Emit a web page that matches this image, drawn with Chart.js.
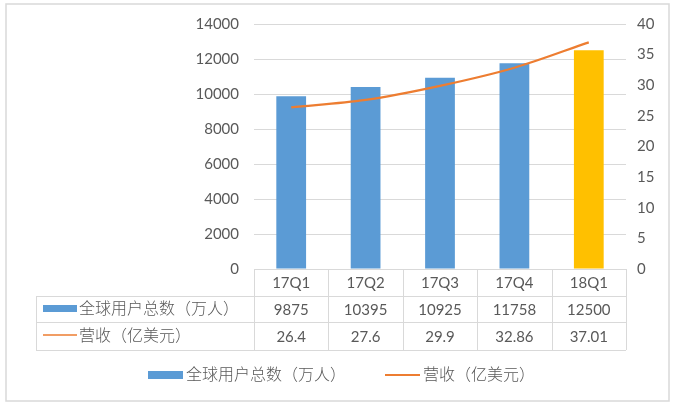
<!DOCTYPE html>
<html><head><meta charset="utf-8">
<script src="https://cdn.jsdelivr.net/npm/chart.js@4/dist/chart.umd.min.js"></script>
<style>html,body{margin:0;padding:0;background:#fff;}#wrap{width:677px;height:410px;position:relative;}</style>
</head><body><div id="wrap"><canvas id="c" width="677" height="410"></canvas></div>
<script>
const categories = ['17Q1','17Q2','17Q3','17Q4','18Q1'];
const users = [9875, 10395, 10925, 11758, 12500];
const revenue = [26.4, 27.6, 29.9, 32.86, 37.01];
const usersLabel = ['9875','10395','10925','11758','12500'];
const revenueLabel = ['26.4','27.6','29.9','32.86','37.01'];
const seriesNames = ['全球用户总数（万人）', '营收（亿美元）'];

const BLUE = '#5B9BD5', YELLOW = '#FFC000', ORANGE = '#ED7D31';
const TXT = '#595959', GRID = '#D9D9D9';
const FONT = "Lato, 'Noto Sans CJK SC', sans-serif";

const tablePlugin = {
  id: 'tablePlugin',
  afterDraw(chart) {
    const ctx = chart.ctx;
    const ca = chart.chartArea;
    const xs = chart.scales.x;
    const n = categories.length;
    const colW = (ca.right - ca.left) / n;
    const y0 = ca.bottom, y1 = 296, y2 = 322, y3 = 350, tl = 36;
    ctx.save();
    ctx.strokeStyle = '#D9D9D9';
    ctx.lineWidth = 1.5;
    ctx.strokeRect(6, 4, 663, 397);
    ctx.strokeStyle = GRID;
    ctx.lineWidth = 1;
    ctx.beginPath();
    for (let i = 0; i <= n; i++) {
      const x = Math.round(ca.left + i * colW) + 0.5;
      ctx.moveTo(x, y0); ctx.lineTo(x, y3);
    }
    ctx.moveTo(tl + 0.5, y1); ctx.lineTo(tl + 0.5, y3);
    [y1, y2, y3].forEach(y => { ctx.moveTo(tl, y + 0.5); ctx.lineTo(ca.right, y + 0.5); });
    ctx.stroke();
    ctx.fillStyle = TXT;
    ctx.font = '15px ' + FONT;
    ctx.textAlign = 'center';
    ctx.textBaseline = 'middle';
    for (let i = 0; i < n; i++) {
      const cx = xs.getPixelForValue(i);
      ctx.fillText(categories[i], cx, (y0 + y1) / 2 + 1);
      ctx.fillText(usersLabel[i], cx, (y1 + y2) / 2 + 1);
      ctx.fillText(revenueLabel[i], cx, (y2 + y3) / 2 + 1);
    }
    ctx.textAlign = 'left';
    ctx.font = '300 16px ' + FONT;
    ctx.fillStyle = BLUE;
    ctx.fillRect(43, 305, 34, 7);
    ctx.fillStyle = TXT;
    ctx.fillText(seriesNames[0], 79, (y1 + y2) / 2);
    ctx.strokeStyle = ORANGE; ctx.lineWidth = 1.5;
    ctx.beginPath(); ctx.moveTo(43, 335); ctx.lineTo(77, 335); ctx.stroke();
    ctx.fillText(seriesNames[1], 79, (y2 + y3) / 2);
    ctx.fillStyle = BLUE;
    ctx.fillRect(148, 371, 35, 8);
    ctx.fillStyle = TXT;
    ctx.fillText(seriesNames[0], 186, 375);
    ctx.strokeStyle = ORANGE; ctx.lineWidth = 2;
    ctx.beginPath(); ctx.moveTo(385, 375); ctx.lineTo(420, 375); ctx.stroke();
    ctx.fillText(seriesNames[1], 423, 375);
    ctx.restore();
  }
};

new Chart(document.getElementById('c'), {
  data: {
    labels: categories,
    datasets: [
      { type: 'line', label: seriesNames[1], data: revenue, yAxisID: 'y1',
        borderColor: ORANGE, borderWidth: 2.25, pointRadius: 0, tension: 0.4,
        cubicInterpolationMode: 'monotone', fill: false, order: 0 },
      { type: 'bar', label: seriesNames[0], data: users, yAxisID: 'y',
        backgroundColor: [BLUE, BLUE, BLUE, BLUE, YELLOW],
        barPercentage: 0.4, categoryPercentage: 1.0, order: 1 }
    ]
  },
  options: {
    responsive: false, animation: false,
    layout: { padding: { top: 23, bottom: 141, left: 0, right: 0 } },
    plugins: { legend: { display: false }, tooltip: { enabled: false } },
    scales: {
      x: { display: false, offset: true },
      y: { position: 'left', min: 0, max: 14000,
        ticks: { stepSize: 2000, color: TXT, font: { family: FONT, size: 15 }, padding: 15,
          callback: v => String(v) },
        grid: { color: GRID, drawTicks: false }, border: { display: false },
        afterFit(s) { s.width = 254; } },
      y1: { position: 'right', min: 0, max: 40,
        ticks: { stepSize: 5, color: TXT, font: { family: FONT, size: 15 }, padding: 11,
          callback: v => String(v) },
        grid: { display: false, drawTicks: false }, border: { display: false },
        afterFit(s) { s.width = 51; } }
    }
  },
  plugins: [tablePlugin]
});
</script></body></html>
